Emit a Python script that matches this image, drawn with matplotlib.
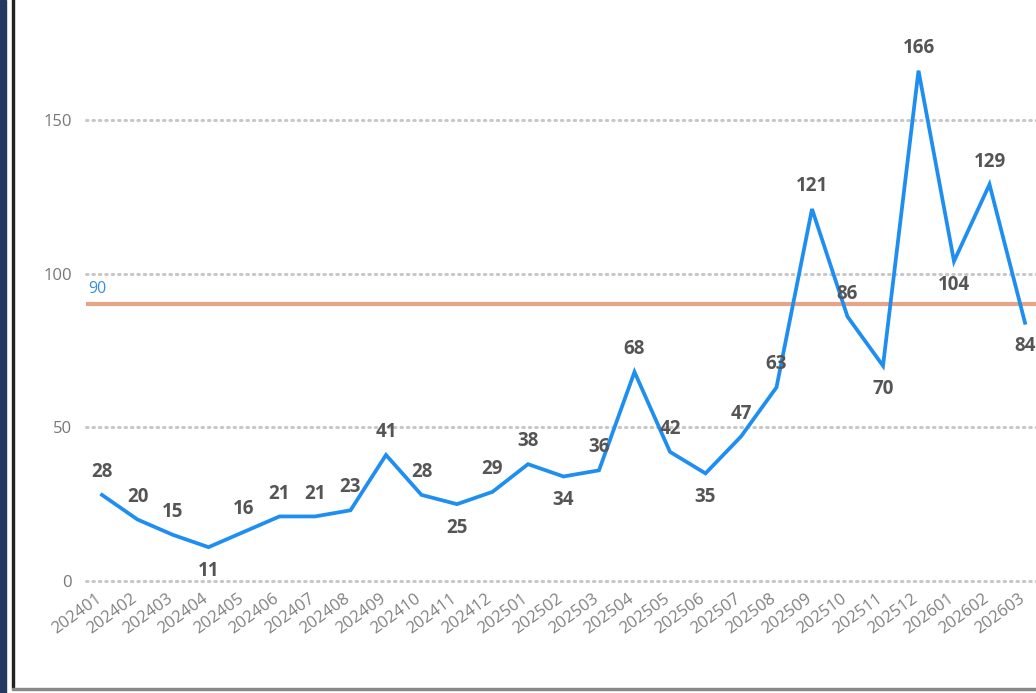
import matplotlib
matplotlib.use("Agg")
import matplotlib.pyplot as plt
from matplotlib.patches import Rectangle
from matplotlib.transforms import ScaledTranslation

months = ["202401", "202402", "202403", "202404", "202405", "202406", "202407", "202408",
          "202409", "202410", "202411", "202412", "202501", "202502", "202503", "202504",
          "202505", "202506", "202507", "202508", "202509", "202510", "202511", "202512",
          "202601", "202602", "202603"]
values = [28, 20, 15, 11, 16, 21, 21, 23, 41, 28, 25, 29, 38, 34, 36, 68,
          42, 35, 47, 63, 121, 86, 70, 166, 104, 129, 84]
target = 90
yticks = [0, 50, 100, 150]

W, H = 1036, 693
fig = plt.figure(figsize=(W / 100, H / 100), dpi=100)
plt.rcParams["font.family"] = ["Open Sans", "DejaVu Sans"]

# frame decorations (dashboard look)
fig.patches.append(Rectangle((0, 0), 6 / W, 1, transform=fig.transFigure, color="#23395f", zorder=0))
fig.patches.append(Rectangle((12 / W, 5 / H), 1.6 / W, 1, transform=fig.transFigure, color="#222222", zorder=0))
fig.patches.append(Rectangle((12 / W, 3 / H), 1, 2.5 / H, transform=fig.transFigure, color="#888888", zorder=0))

# axes placed in pixels; right side runs past the figure edge like the reference
left, right, bottom, top = 86, 1060, 112, 650
ax = fig.add_axes([left / W, bottom / H, (right - left) / W, (top - bottom) / H])
step = 35.5
x = list(range(len(values)))
ax.set_xlim(-16 / step, -16 / step + (right - left) / step)
ax.set_ylim(0, 175)

for s in ax.spines.values():
    s.set_visible(False)
for yv in yticks:
    ax.axhline(yv, color="#c8c8c8", lw=2.2, ls=(0, (0.5, 1.6)), dash_capstyle="round", zorder=1, clip_on=False)

ax.axhline(target, color="#e8a488", lw=3, zorder=2)
ax.text(0.002, target + 2.5, str(target), transform=ax.get_yaxis_transform(), color="#3a8fd8",
        fontsize=11.5, ha="left", va="bottom")

ax.plot(x, values, color="#1f8ef1", lw=2.7, solid_joinstyle="miter", zorder=3)

for i, v in enumerate(values):
    prev_v = values[i - 1] if i > 0 else None
    next_v = values[i + 1] if i < len(values) - 1 else None
    below = prev_v is not None and v < prev_v and (next_v is None or v < next_v)
    ax.annotate(str(v), (i, v), xytext=(0, -17 if below else 16.5), textcoords="offset points",
                ha="center", va="center", fontsize=13.5, fontweight="bold", color="#555555", zorder=4)

ax.set_yticks(yticks)
ax.set_yticklabels([str(t) for t in yticks], color="#777777", fontsize=12)
ax.tick_params(axis="y", length=0, pad=10)
ax.set_xticks(x)
ax.set_xticklabels(months, rotation=36, ha="right", rotation_mode="anchor", color="#808080", fontsize=12)
ax.tick_params(axis="x", length=0, pad=7)
shift = ScaledTranslation(-7 / 100, 0, fig.dpi_scale_trans)
for lab in ax.get_xticklabels():
    lab.set_transform(lab.get_transform() + shift)

fig.savefig("out.png", dpi=100)
